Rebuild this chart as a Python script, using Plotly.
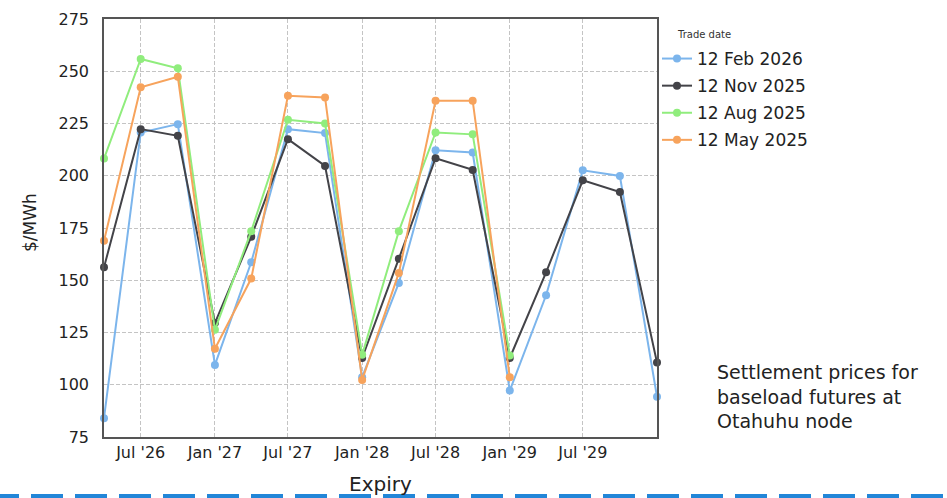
import plotly.graph_objects as go

expiry = ["2026-04-01", "2026-07-01", "2026-10-01", "2027-01-01", "2027-04-01", "2027-07-01",
          "2027-10-01", "2028-01-01", "2028-04-01", "2028-07-01", "2028-10-01", "2029-01-01",
          "2029-04-01", "2029-07-01", "2029-10-01", "2030-01-01"]

feb_2026 = [84.0, 220.7, 224.7, 109.5, 158.6, 222.3, 220.4, 103.6, 148.7, 212.2, 211.1, 97.2,
            142.8, 202.6, 199.9, 94.2]
nov_2025 = [156.2, 222.3, 219.1, 129.5, 170.8, 217.5, 204.7, 112.8, 160.3, 208.4, 202.8, 112.8,
            153.8, 197.8, 192.2, 110.6]
aug_2025 = [208.2, 255.9, 251.4, 126.3, 173.5, 226.8, 225.0, 114.3, 173.5, 220.7, 219.8, 114.0]
may_2025 = [168.9, 242.3, 247.4, 117.2, 150.8, 238.3, 237.5, 102.3, 153.5, 235.9, 235.9, 103.6]

series_names = ["12 Feb 2026", "12 Nov 2025", "12 Aug 2025", "12 May 2025"]
series_values = [feb_2026, nov_2025, aug_2025, may_2025]
series_colors = ["#7cb5ec", "#434348", "#90ed7d", "#f7a35c"]

tick_vals = ["2026-07-01", "2027-01-01", "2027-07-01", "2028-01-01", "2028-07-01",
             "2029-01-01", "2029-07-01"]
tick_text = ["Jul '26", "Jan '27", "Jul '27", "Jan '28", "Jul '28", "Jan '29", "Jul '29"]
y_ticks = [75, 100, 125, 150, 175, 200, 225, 250, 275]

FONT = "DejaVu Sans, sans-serif"
TXT = "#222222"

fig = go.Figure()
for name, vals, col in zip(series_names, series_values, series_colors):
    fig.add_trace(go.Scatter(
        x=expiry[:len(vals)], y=vals, name=name, mode="lines+markers",
        line=dict(color=col, width=2), marker=dict(color=col, size=8),
        cliponaxis=False, legendgroup=name,
    ))

W, H = 947, 498
L, R, T, B = 104, 657, 19, 437
PW, PH = R - L, B - T


def px(x):
    return (x - L) / PW


def py(y):
    return (B - y) / PH


fig.update_layout(
    width=W, height=H,
    margin=dict(l=L, r=W - R, t=T, b=H - B, pad=0, autoexpand=False),
    paper_bgcolor="white", plot_bgcolor="white",
    font=dict(family=FONT, color=TXT, size=16),
    showlegend=True,
    legend=dict(
        x=px(657), xanchor="left",
        y=py(99.5), yanchor="middle",
        font=dict(size=17, color=TXT),
        itemwidth=30, tracegroupgap=2, bgcolor="rgba(0,0,0,0)",
    ),
    xaxis=dict(
        range=["2026-04-01", "2030-01-01"], tickvals=tick_vals, ticktext=tick_text,
        showgrid=True, gridcolor="#c4c4c4", griddash="4px,2px", gridwidth=1,
        showline=True, linecolor="#555555", linewidth=1.5, mirror=True,
        ticks="", tickfont=dict(size=16), zeroline=False,
    ),
    yaxis=dict(
        range=[75, 275], tickvals=y_ticks,
        showgrid=True, gridcolor="#c4c4c4", griddash="4px,2px", gridwidth=1,
        showline=True, linecolor="#555555", linewidth=1.5, mirror=True,
        ticks="", tickfont=dict(size=16), zeroline=False, ticklabelstandoff=10,
    ),
)

# legend heading
fig.add_annotation(text="Trade date", xref="paper", yref="paper", x=px(675), y=py(34),
                   xanchor="left", yanchor="middle", showarrow=False,
                   font=dict(size=10, color="#333333"))
# axis titles
fig.add_annotation(text="$/MWh", xref="paper", yref="paper", x=px(30), y=py(223),
                   xanchor="center", yanchor="middle", showarrow=False, textangle=-90,
                   font=dict(size=17, color=TXT))
fig.add_annotation(text="Expiry", xref="paper", yref="paper", x=px(380.5), y=py(484),
                   xanchor="center", yanchor="middle", showarrow=False,
                   font=dict(size=20, color=TXT))
# note
fig.add_annotation(
    text="Settlement prices for<br>baseload futures at<br>Otahuhu node",
    xref="paper", yref="paper", x=px(715), y=py(396),
    xanchor="left", yanchor="middle", align="left", showarrow=False,
    font=dict(size=19, color=TXT),
)

fig.add_shape(
    type="line", xref="paper", yref="paper",
    x0=px(-13), x1=px(W + 20), y0=py(497), y1=py(497),
    line=dict(color="#2286d8", width=6, dash="32px,12px"),
)

fig.write_html("out.html", config={"displayModeBar": False},
               post_script="document.body.style.margin='0';")
